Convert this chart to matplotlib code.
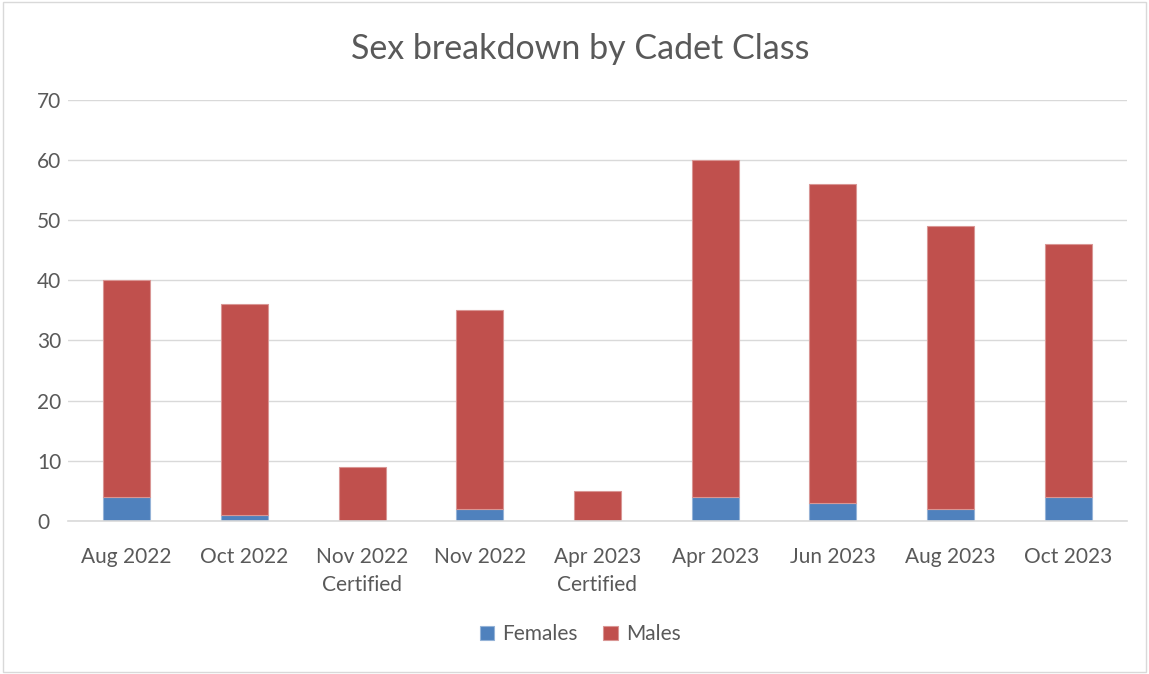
import matplotlib
matplotlib.use('Agg')
import matplotlib.pyplot as plt
from matplotlib.patches import Rectangle

# Cadet class sex breakdown
classes = ['Aug 2022', 'Oct 2022', 'Nov 2022\nCertified', 'Nov 2022',
           'Apr 2023\nCertified', 'Apr 2023', 'Jun 2023', 'Aug 2023', 'Oct 2023']
females = [4, 1, 0, 2, 0, 4, 3, 2, 4]
males = [36, 35, 9, 33, 5, 56, 53, 47, 42]

plt.rcParams['font.family'] = ['Lato', 'DejaVu Sans']
text_col = '#595959'

fig = plt.figure(figsize=(11.49, 6.74), dpi=100)
ax = fig.add_axes([0.059, 0.227, 0.922, 0.625])

x = range(len(classes))
ax.bar(x, females, width=0.4, color='#4f81bd', edgecolor='#95b3d7', linewidth=0.8, label='Females')
ax.bar(x, males, width=0.4, bottom=females, color='#c0504d', edgecolor='#d99694', linewidth=0.8, label='Males')

ax.set_xlim(-0.5, len(classes) - 0.5)
ax.set_ylim(0, 70)
ax.set_yticks(range(0, 71, 10))
ax.set_xticks(list(x))
ax.set_xticklabels(classes, linespacing=1.45)
ax.yaxis.grid(True, color='#d9d9d9', linewidth=1)
ax.set_axisbelow(True)
for s in ['top', 'right', 'left']:
    ax.spines[s].set_visible(False)
ax.spines['bottom'].set_color('#d9d9d9')
ax.spines['bottom'].set_linewidth(1.2)
ax.tick_params(axis='both', length=0, labelsize=15, labelcolor=text_col)
ax.tick_params(axis='x', pad=19)
ax.tick_params(axis='y', pad=22)
for lbl in ax.get_yticklabels():
    lbl.set_horizontalalignment('left')

fig.text(0.505, 0.928, 'Sex breakdown by Cadet Class', ha='center', va='center',
         fontsize=24.5, color=text_col)

fig.legend(loc='center', bbox_to_anchor=(0.505, 0.059), ncol=2, frameon=False,
           fontsize=15, labelcolor=text_col, handlelength=0.7, handleheight=0.7,
           columnspacing=1.2, handletextpad=0.4)

fig.patches.append(Rectangle((0.003, 0.003), 0.994, 0.994, transform=fig.transFigure,
                             fill=False, edgecolor='#d9d9d9', linewidth=1))

fig.savefig('out.png', dpi=100)
